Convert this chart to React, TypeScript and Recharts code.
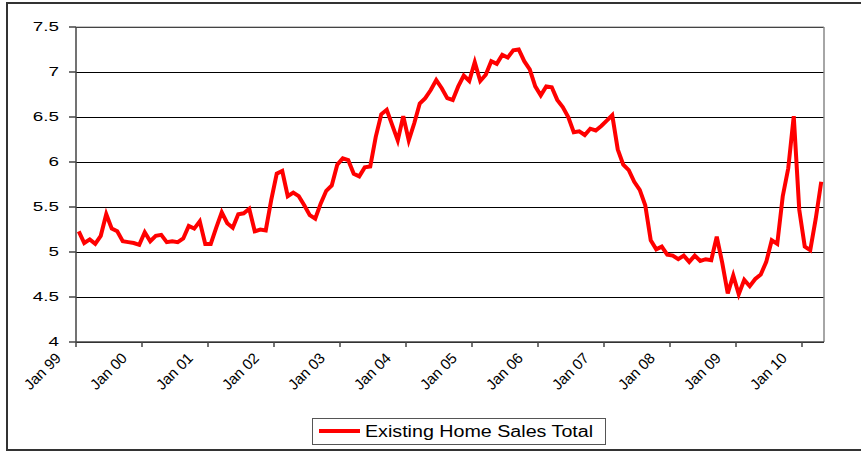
import React from 'react';
import { LineChart, Line, XAxis, YAxis, CartesianGrid, ReferenceLine, Legend } from 'recharts';

// existing home sales, millions (SAAR), one array per year
const sales1999 = [5.23, 5.10, 5.14, 5.09, 5.18, 5.42, 5.26, 5.23, 5.12, 5.11, 5.10, 5.08];
const sales2000 = [5.22, 5.12, 5.18, 5.19, 5.11, 5.12, 5.11, 5.15, 5.29, 5.26, 5.34, 5.09];
const sales2001 = [5.09, 5.27, 5.44, 5.32, 5.27, 5.42, 5.43, 5.48, 5.23, 5.25, 5.24, 5.58];
const sales2002 = [5.87, 5.90, 5.62, 5.66, 5.62, 5.52, 5.41, 5.37, 5.54, 5.68, 5.74, 5.97];
const sales2003 = [6.04, 6.02, 5.87, 5.84, 5.94, 5.95, 6.28, 6.53, 6.58, 6.41, 6.24, 6.51];
const sales2004 = [6.24, 6.43, 6.65, 6.71, 6.80, 6.91, 6.82, 6.71, 6.69, 6.84, 6.96, 6.90];
const sales2005 = [7.11, 6.90, 6.97, 7.12, 7.09, 7.19, 7.16, 7.24, 7.25, 7.12, 7.03, 6.84];
const sales2006 = [6.74, 6.84, 6.83, 6.69, 6.61, 6.50, 6.33, 6.34, 6.30, 6.37, 6.35, 6.40];
const sales2007 = [6.46, 6.52, 6.14, 5.97, 5.91, 5.78, 5.69, 5.52, 5.13, 5.03, 5.06, 4.97];
const sales2008 = [4.96, 4.92, 4.96, 4.89, 4.96, 4.90, 4.92, 4.91, 5.17, 4.88, 4.54, 4.74];
const sales2009 = [4.53, 4.69, 4.62, 4.70, 4.75, 4.89, 5.13, 5.09, 5.62, 5.93, 6.51, 5.47];
const sales2010 = [5.06, 5.02, 5.37, 5.78];

const years = ['99', '00', '01', '02', '03', '04', '05', '06', '07', '08', '09', '10'];
const monthNames = ['Jan', 'Feb', 'Mar', 'Apr', 'May', 'Jun', 'Jul', 'Aug', 'Sep', 'Oct', 'Nov', 'Dec'];
const tickLabels = ['Jan 99', 'Jan 00', 'Jan 01', 'Jan 02', 'Jan 03', 'Jan 04', 'Jan 05', 'Jan 06', 'Jan 07', 'Jan 08', 'Jan 09', 'Jan 10'];
const yTicks = [4, 4.5, 5, 5.5, 6, 6.5, 7, 7.5];

const seriesName = 'Existing Home Sales Total';

const allSales = [
    ...sales1999, ...sales2000, ...sales2001, ...sales2002, ...sales2003, ...sales2004,
    ...sales2005, ...sales2006, ...sales2007, ...sales2008, ...sales2009, ...sales2010,
];

const months = years.flatMap(yr => monthNames.map(m => `${m} ${yr}`)).slice(0, allSales.length);

// x is the month's slot centre, ticks sit on the slot boundaries (Excel style)
const chartData = allSales.map((v, i) => ({ idx: i + 0.5, month: months[i], sales: v }));
const slotCount = allSales.length;
const xTicks = tickLabels.map((_, i) => i * 12);

const FONT = '"Liberation Sans", Arial, sans-serif';

const XTick = ({ x, y, payload }: any) => {
    const ax = x - 14;
    const ay = y + 10;
    return (
        <text x={ax} y={ay} textAnchor="end" fontSize={15} fontFamily={FONT} fill="#000"
            transform={`rotate(-45 ${ax} ${ay})`}>
            {tickLabels[payload.value / 12]}
        </text>
    );
};

const YTick = ({ x, y, payload }: any) => (
    <text transform={`translate(${x},${y}) scale(1.45,1)`} textAnchor="end" dy="0.33em"
        fontSize={13} fontFamily={FONT} fill="#000">
        {String(payload.value)}
    </text>
);

const LegendBox = ({ payload }: any) => {
    const item = payload && payload[0];
    return (
        <svg width={294} height={28}>
            <rect x={0.5} y={0.5} width={293} height={26} fill="#fff" stroke="#555" />
            <line x1={7} y1={13} x2={48} y2={13} stroke="#ff0000" strokeWidth={4} />
            <text transform="translate(53,19) scale(1.23,1)" fontSize={16} fontFamily={FONT} fill="#000">
                {item ? item.value : seriesName}
            </text>
        </svg>
    );
};

export default function App() {
    return (
        <div style={{ position: 'fixed', left: 0, top: 0, width: 861, height: 451, overflow: 'hidden', background: '#fff' }}>
            <div style={{
                position: 'absolute', left: 6, top: 2, width: 900, height: 449, boxSizing: 'border-box',
                borderStyle: 'solid', borderColor: '#333', borderWidth: '2px 0 2px 2px',
            }} />
            <div style={{ position: 'absolute', left: 0, top: 0 }}>
                <LineChart width={861} height={451} data={chartData}
                    margin={{ top: 27, right: 37, left: 16, bottom: 49 }}>
                    <CartesianGrid vertical={false} stroke="#000" strokeWidth={1} shapeRendering="crispEdges" />
                    <XAxis type="number" dataKey="idx" domain={[0, slotCount]} ticks={xTicks}
                        interval={0} height={60} tickSize={5} tickMargin={2}
                        stroke="#444" strokeWidth={1.5} tick={<XTick />} allowDataOverflow />
                    <YAxis type="number" domain={[4, 7.5]} ticks={yTicks} interval={0} width={60}
                        tickSize={7} tickMargin={10} stroke="#444" strokeWidth={1.5}
                        tick={<YTick />} allowDataOverflow />
                    <ReferenceLine y={7.5} stroke="#888" />
                    <ReferenceLine x={slotCount} stroke="#888" strokeWidth={1.5} />
                    <Legend verticalAlign="middle" align="center" content={<LegendBox />}
                        wrapperStyle={{ left: 312, top: 418, width: 294, height: 28 }} />
                    <Line type="linear" dataKey="sales" name={seriesName} stroke="#ff0000"
                        strokeWidth={4} dot={false} isAnimationActive={false} />
                </LineChart>
            </div>
        </div>
    );
}
